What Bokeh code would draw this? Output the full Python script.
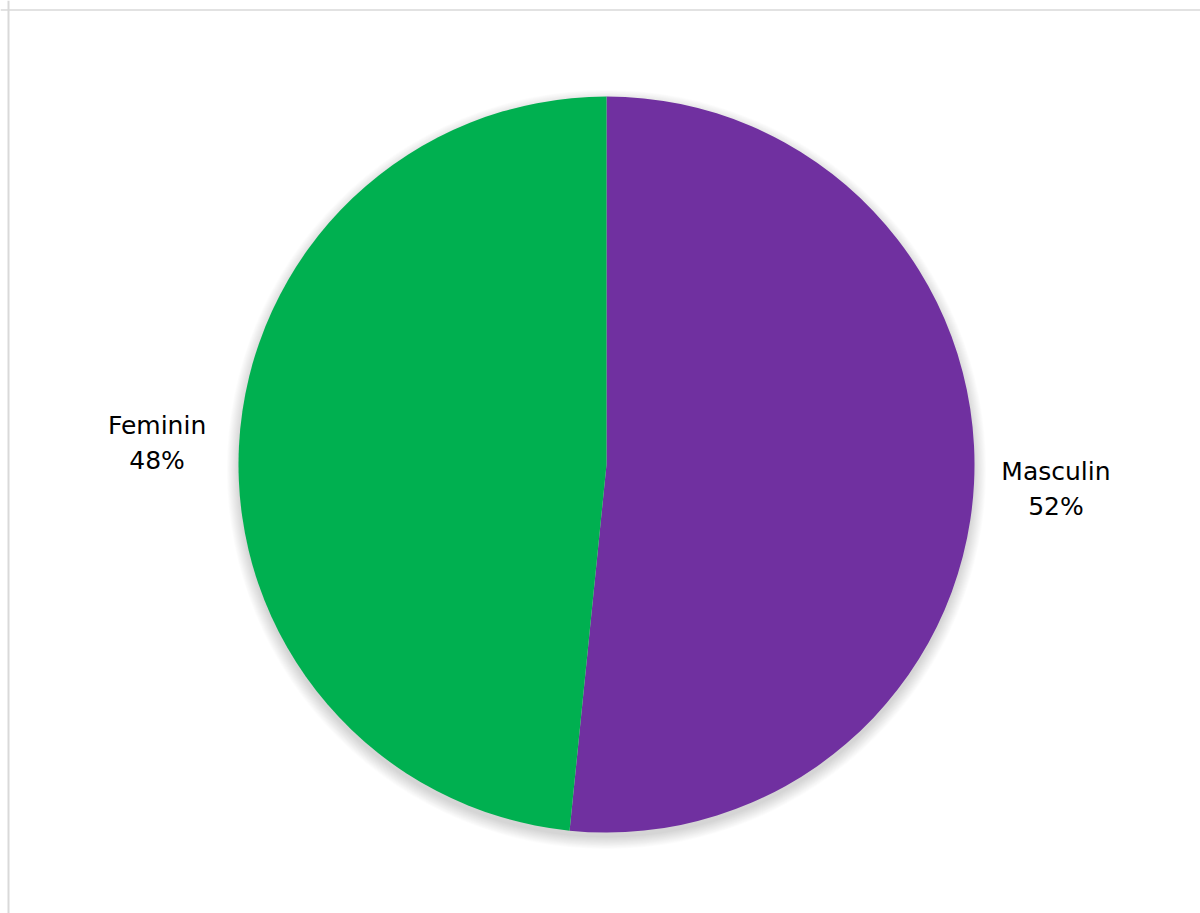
import math
from bokeh.plotting import figure
from bokeh.models import Range1d, Span, ColumnDataSource
from bokeh.core.properties import value
from bokeh.embed import file_html
from bokeh.resources import INLINE

categories = ["Masculin", "Feminin"]
shares = [51.6, 48.4]
colors = ["#7030A0", "#00B050"]

W, H = 1200, 913
cx, cy, R = 606, 449, 368

p = figure(width=W, height=H, output_backend="svg", toolbar_location=None,
           x_range=Range1d(0, W), y_range=Range1d(0, H), min_border=0)
p.axis.visible = False
p.grid.visible = False
p.outline_line_color = None
p.background_fill_color = "white"
p.border_fill_color = "white"

# chart-area border (left and top visible)
p.add_layout(Span(location=8, dimension="height", line_color="#d9d9d9", line_width=2))
p.add_layout(Span(location=H - 9.5, dimension="width", line_color="#d9d9d9", line_width=1.6))

# soft shadow
for i in range(14):
    p.circle(x=[cx], y=[cy - 5], radius=R + i * 0.9, fill_color="black",
             fill_alpha=0.013, line_color=None)

total = sum(shares)
start = math.pi / 2
starts, ends, mids = [], [], []
for s in shares:
    a = s / total * 2 * math.pi
    starts.append(start)
    ends.append(start - a)
    mids.append(start - a / 2)
    start -= a

src = ColumnDataSource(dict(start=starts, end=ends, color=colors))
p.wedge(x=cx, y=cy, radius=R, start_angle="start", end_angle="end",
        direction="clock", fill_color="color", line_color=None, source=src)

LR = R + 82
lx = [cx + LR * math.cos(m) for m in mids]
ly = [cy + LR * math.sin(m) for m in mids]
pct = [f"{round(s / total * 100)}%" for s in shares]

p.text(x=lx, y=[y + 16 for y in ly], text=categories, text_align="center",
       text_baseline="alphabetic", text_font=value("DejaVu Sans"),
       text_font_size="25px", text_color="#000000")
p.text(x=lx, y=[y - 19 for y in ly], text=pct, text_align="center",
       text_baseline="alphabetic", text_font=value("DejaVu Sans"),
       text_font_size="25px", text_color="#000000")

open("out.html", "w").write(file_html(p, INLINE))
